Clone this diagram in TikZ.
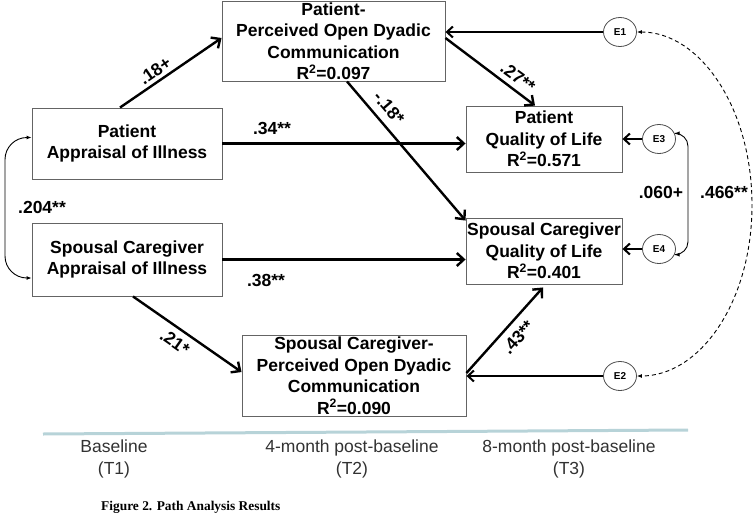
\documentclass[tikz,border=0pt]{standalone}
\usepackage{fontspec}
\setmainfont{Liberation Sans}
\newfontfamily\capfont{Liberation Serif}
\usetikzlibrary{arrows.meta,shapes.geometric,calc}
\definecolor{sepcol}{RGB}{183,211,216}
\definecolor{boxcol}{RGB}{100,100,100}
\definecolor{pertext}{RGB}{50,50,50}
\begin{document}
\begin{tikzpicture}[x=1pt,y=-1pt,
  box/.style={draw=boxcol, line width=0.9pt, rectangle, inner sep=0pt, align=center,
    font=\fontsize{17.5}{21.5}\selectfont\bfseries},
  err/.style={draw=black!70, line width=0.8pt, ellipse, minimum width=33pt, minimum height=29pt,
    inner sep=0pt, font=\fontsize{10}{12}\selectfont\bfseries},
  bigarrow/.style={line width=2.4pt, -{Straight Barb[length=7pt,width=13pt]}},
  errarrow/.style={line width=2pt, -{Straight Barb[length=6pt,width=11pt]}},
  covarrow/.style={line width=0.9pt, {Latex[length=5pt,width=4pt]}-{Latex[length=5pt,width=4pt]}},
  coef/.style={font=\fontsize{17.5}{20}\selectfont\bfseries, inner sep=1pt},
  period/.style={text=pertext, font=\fontsize{17.5}{22}\selectfont, align=center},
  sepline/.style={draw=sepcol, line width=3pt}
]
\useasboundingbox (0,0) rectangle (753,517);

% boxes
\node[box, minimum width=223pt, minimum height=80pt] (tb) at (333.5,41) {Patient-\\Perceived Open Dyadic\\Communication\\R\textsuperscript{2}=0.097};
\node[box, minimum width=190pt, minimum height=71pt] (pa) at (127,143.5) {Patient\\Appraisal of Illness};
\node[box, minimum width=190pt, minimum height=73pt] (sa) at (127,259.5) {Spousal Caregiver\\Appraisal of Illness};
\node[box, minimum width=156pt, minimum height=66pt] (pq) at (544,139) {Patient\\Quality of Life\\R\textsuperscript{2}=0.571};
\node[box, minimum width=156pt, minimum height=66pt] (sq) at (544,251) {Spousal Caregiver\\Quality of Life\\R\textsuperscript{2}=0.401};
\node[box, minimum width=224pt, minimum height=81pt] (bb) at (354,375.5) {Spousal Caregiver-\\Perceived Open Dyadic\\Communication\\R\textsuperscript{2}=0.090};

% error terms
\node[err] (e1) at (620,32) {E1};
\node[err] (e3) at (659,139) {E3};
\node[err] (e4) at (659,249) {E4};
\node[err] (e2) at (620,376) {E2};

% paths
\draw[bigarrow] ($(pa.north)+(-7,0)$) -- ($(tb.west)+(0,-3)$);
\draw[bigarrow] (pa.east) -- (pa.east -| pq.west);
\draw[bigarrow] (sa.east) -- (sa.east -| sq.west);
\draw[bigarrow] ($(sa.south)+(6,0)$) -- ($(bb.west)+(0,-3.5)$);
\draw[bigarrow] ($(tb.east)+(0,-3)$) -- ($(pq.north)+(-9,0)$);
\draw[bigarrow] ($(tb.south)+(13.5,0)$) -- ($(sq.north west)+(0,3)$);
\draw[bigarrow] ($(bb.east)+(0,-2.5)$) -- ($(sq.south)+(-1,3)$);

% error arrows
\draw[errarrow] (e1.west) -- (e1.west -| tb.east);
\draw[errarrow] (e3.west) -- (e3.west -| pq.east);
\draw[errarrow] (e4.west) -- (e4.west -| sq.east);
\draw[errarrow] (e2.west) -- (e2.west -| bb.east);

% covariances
\coordinate (lc) at (5,210);
\draw[covarrow, rounded corners=22pt] ($(pa.west)+(0,-6)$) -| (lc) |- ($(sa.west)+(0,18.5)$);
\coordinate (rc) at (688,195);
\draw[covarrow, rounded corners=13pt] (e3.20) -| (rc) |- (e4.-20);
\coordinate (dc) at (752,205);
\draw[line width=0.9pt, dash pattern=on 4pt off 3pt, {Latex[length=5pt,width=4pt]}-{Latex[length=5pt,width=4pt]}]
  (e1.east) .. controls (700,32) and (752,108) .. (dc) .. controls (752,302) and (700,376) .. (e2.east);

% coefficient labels
\node[coef, rotate=34.5] (l1) at (155,71) {.18+};
\node[coef] (l2) at (272,128) {.34**};
\node[coef] (l3) at (266,280) {.38**};
\node[coef, rotate=-35] (l4) at (175,342) {.21*};
\node[coef, rotate=-36] (l5) at (518,77) {.27**};
\node[coef, rotate=-49.5] (l6) at (389,108) {-.18*};
\node[coef, rotate=47.8] (l7) at (518,337) {.43**};
\node[coef] (l8) at (42,207) {.204**};
\node[coef] (l9) at (661,192) {.060+};
\node[coef] (l10) at (724,192) {.466**};

% time line
\coordinate (s1) at (43,434);
\coordinate (s2) at (688,430);
\draw[sepline] (s1) -- (s2);
\node[period] (t1) at (114,459) {Baseline\\(T1)};
\node[period] (t2) at (352,459) {4-month post-baseline\\(T2)};
\node[period] (t3) at (569,459) {8-month post-baseline\\(T3)};

\node[anchor=west, inner sep=0pt, font=\capfont\bfseries\fontsize{13.4}{15}\selectfont] (cap) at (101,507) {Figure 2. Path Analysis Results};
\end{tikzpicture}
\end{document}
